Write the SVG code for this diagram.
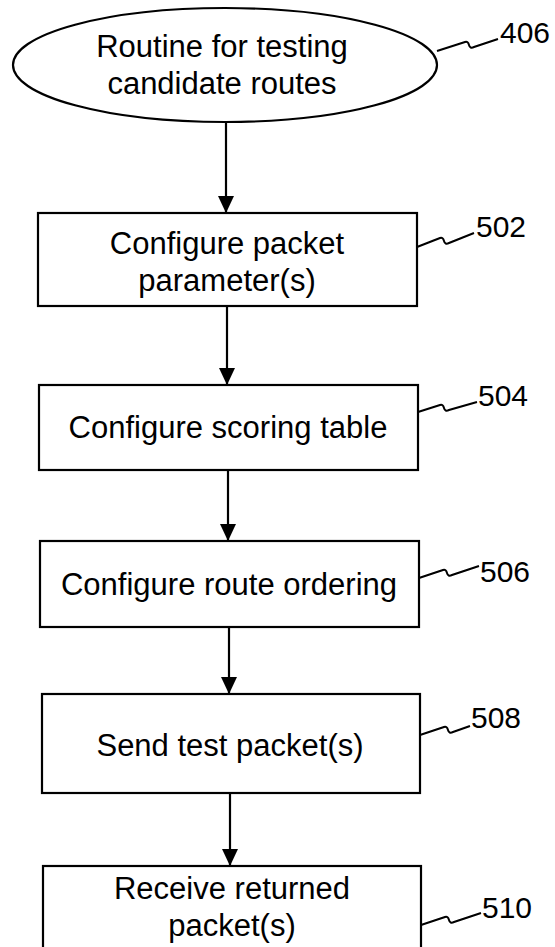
<svg xmlns="http://www.w3.org/2000/svg" width="555" height="947" viewBox="0 0 555 947">
<defs>
<marker id="arr" markerWidth="18" markerHeight="16" refX="17" refY="8" orient="auto" markerUnits="userSpaceOnUse">
<path d="M0,0 L17,8 L0,16 Z" fill="#000"/>
</marker>
<style>
.shape{fill:#fff;stroke:#000;stroke-width:2.2}
.t{font-family:"Liberation Sans",Arial,sans-serif;font-size:31px;fill:#000;text-anchor:middle}
.lbl{font-family:"Liberation Sans",Arial,sans-serif;font-size:30px;fill:#000}
.lead{fill:none;stroke:#000;stroke-width:2}
.con{stroke:#000;stroke-width:2.2;fill:none}
</style>
</defs>
<rect width="555" height="947" fill="#fff"/>
<g id="n406">
<ellipse class="shape" cx="225" cy="65" rx="212" ry="57"/>
<text class="t" x="222" y="57">Routine for testing</text>
<text class="t" x="222" y="94">candidate routes</text>
<path class="lead" d="M437,51 L465,42 Q468,41 469,45 Q470,49 474,47 L498,39"/>
<text class="lbl" x="500" y="43">406</text>
</g>
<g id="n502">
<rect class="shape" x="38" y="213" width="379" height="93"/>
<text class="t" x="227" y="254">Configure packet</text>
<text class="t" x="227" y="291">parameter(s)</text>
<path class="lead" d="M417,247 L440,238 Q443,237 444,241 Q445,245 449,243 L474,233"/>
<text class="lbl" x="476" y="237">502</text>
</g>
<g id="n504">
<rect class="shape" x="39" y="385" width="379" height="85"/>
<text class="t" x="228" y="438">Configure scoring table</text>
<path class="lead" d="M418,412 L440,405 Q443,404 444,408 Q445,412 449,410 L477,402"/>
<text class="lbl" x="478" y="406">504</text>
</g>
<g id="n506">
<rect class="shape" x="40" y="541" width="379" height="86"/>
<text class="t" x="229" y="595">Configure route ordering</text>
<path class="lead" d="M419,578 L443,570 Q446,569 447,573 Q448,577 452,575 L479,566"/>
<text class="lbl" x="480" y="582">506</text>
</g>
<g id="n508">
<rect class="shape" x="42" y="694" width="378" height="99"/>
<text class="t" x="230" y="756">Send test packet(s)</text>
<path class="lead" d="M420,735 L444,727 Q447,726 448,730 Q449,734 453,732 L470,726"/>
<text class="lbl" x="471" y="728">508</text>
</g>
<g id="n510">
<rect class="shape" x="43" y="866" width="378" height="90"/>
<text class="t" x="232" y="899">Receive returned</text>
<text class="t" x="232" y="936">packet(s)</text>
<path class="lead" d="M421,925 L445,917 Q448,916 449,920 Q450,924 454,922 L481,913"/>
<text class="lbl" x="482" y="918">510</text>
</g>
<g id="connectors">
<line class="con" x1="226" y1="122" x2="226" y2="213" marker-end="url(#arr)"/>
<line class="con" x1="227" y1="306" x2="227" y2="385" marker-end="url(#arr)"/>
<line class="con" x1="228" y1="470" x2="228" y2="541" marker-end="url(#arr)"/>
<line class="con" x1="229" y1="627" x2="229" y2="694" marker-end="url(#arr)"/>
<line class="con" x1="230" y1="793" x2="230" y2="866" marker-end="url(#arr)"/>
</g>
</svg>
